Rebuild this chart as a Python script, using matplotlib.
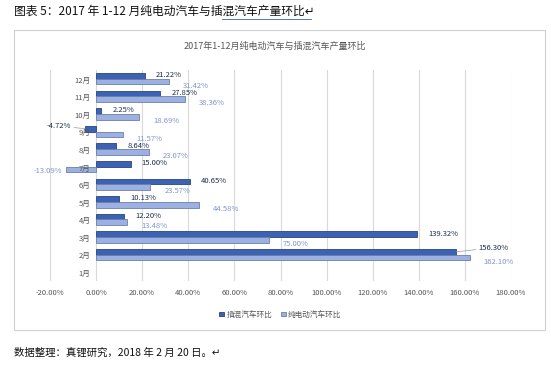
import numpy as np
import matplotlib
matplotlib.use('Agg')
import matplotlib.pyplot as plt
from matplotlib.patches import Rectangle

plt.rcParams['font.family'] = ['Noto Sans CJK SC', 'DejaVu Sans']

months = ['1月', '2月', '3月', '4月', '5月', '6月', '7月', '8月', '9月', '10月', '11月', '12月']
# 插混汽车环比 (%), 1月 has no value
phev = [np.nan, 156.30, 139.32, 12.20, 10.13, 40.65, 15.00, 8.64, -4.72, 2.25, 27.85, 21.22]
# 纯电动汽车环比 (%)
bev = [np.nan, 162.10, 75.00, 13.48, 44.58, 23.57, -13.09, 23.07, 11.57, 18.69, 38.36, 31.42]
xticks = [-20, 0, 20, 40, 60, 80, 100, 120, 140, 160, 180]

W, H = 551, 370
fig = plt.figure(figsize=(W / 100, H / 100), dpi=100)

# outer chart frame
fig.patches.append(Rectangle((14 / W, 1 - 330 / H), 531 / W, 300 / H,
                             transform=fig.transFigure, fill=False,
                             edgecolor='#d0d0d0', lw=0.8))

fig.text(14 / W, 1 - 11 / H, '图表 5：2017 年 1-12 月纯电动汽车与插混汽车产量环比↵',
         fontsize=8.5, color='#111111', va='center')
fig.add_artist(plt.Line2D([222 / W, 311 / W], [1 - 19 / H, 1 - 19 / H],
                          color='#3060c0', lw=0.6))
fig.text(275 / W, 1 - 46 / H, '2017年1-12月纯电动汽车与插混汽车产量环比',
         fontsize=6.5, color='#555555', ha='center', va='center')

ax = fig.add_axes([50 / W, 1 - 281 / H, 461 / W, 211 / H])
y = np.arange(len(months))
h = 0.32
c_dark = '#3c62b4'
c_light = '#9cb0e2'
ax.barh(y + h / 2, phev, height=h, color=c_dark, edgecolor='#2a4480', lw=0.6,
        label='插混汽车环比', zorder=3)
ax.barh(y - h / 2, bev, height=h, color=c_light, edgecolor='#6d7fa8', lw=0.6,
        label='纯电动汽车环比', zorder=3)

lead = dict(arrowstyle='-', color='#999999', lw=0.5, shrinkA=0, shrinkB=0)
for i in range(len(months)):
    if not np.isnan(phev[i]):
        v = phev[i]
        if v < 0:
            ax.annotate('%.2f%%' % v, (v, y[i] + h / 2), xytext=(-10, 2),
                        textcoords='offset points', fontsize=5.5, color='#1f2d50',
                        va='center', ha='right', arrowprops=lead)
        elif v > 150:
            ax.annotate('%.2f%%' % v, (v, y[i] + h / 2), xytext=(16, 3),
                        textcoords='offset points', fontsize=5.5, color='#1f2d50',
                        va='center', ha='left', arrowprops=lead)
        else:
            ax.annotate('%.2f%%' % v, (v, y[i] + h / 2), xytext=(8, 0.5),
                        textcoords='offset points', fontsize=5.5, color='#1f2d50',
                        va='center', ha='left')
    if not np.isnan(bev[i]):
        v = bev[i]
        if v >= 0:
            ax.annotate('%.2f%%' % v, (v, y[i] - h / 2), xytext=(10, -3),
                        textcoords='offset points', fontsize=5.5, color='#7f95cf',
                        va='center', ha='left')
        else:
            ax.annotate('%.2f%%' % v, (v, y[i] - h / 2), xytext=(-3, -1),
                        textcoords='offset points', fontsize=5.5, color='#7f95cf',
                        va='center', ha='right')

# category labels sit at the zero line
for i, m in enumerate(months):
    ax.annotate(m, (0, y[i] - 0.1), xytext=(-4, 0), textcoords='offset points',
                fontsize=5.5, color='#555555', ha='right', va='center', zorder=4)

ax.set_xlim(-20, 180)
ax.set_ylim(-0.5, len(months) - 0.5)
ax.set_xticks(xticks)
ax.set_xticklabels(['%.2f%%' % t for t in xticks], fontsize=5.5, color='#555555')
ax.set_yticks([])
ax.tick_params(axis='x', length=0, pad=6)
ax.grid(axis='x', color='#d9d9d9', lw=0.8, zorder=0)
for s in ax.spines.values():
    s.set_visible(False)

ax.legend(loc='center', bbox_to_anchor=(0.5, -0.16), ncol=2, frameon=False,
          fontsize=5.5, handlelength=0.6, handleheight=0.6, handletextpad=0.3,
          columnspacing=1.2, labelcolor='#555555')

fig.text(14 / W, 1 - 353 / H, '数据整理：真锂研究，2018 年 2 月 20 日。↵',
         fontsize=7.5, color='#111111', va='center')

fig.savefig('out.png', dpi=100)
